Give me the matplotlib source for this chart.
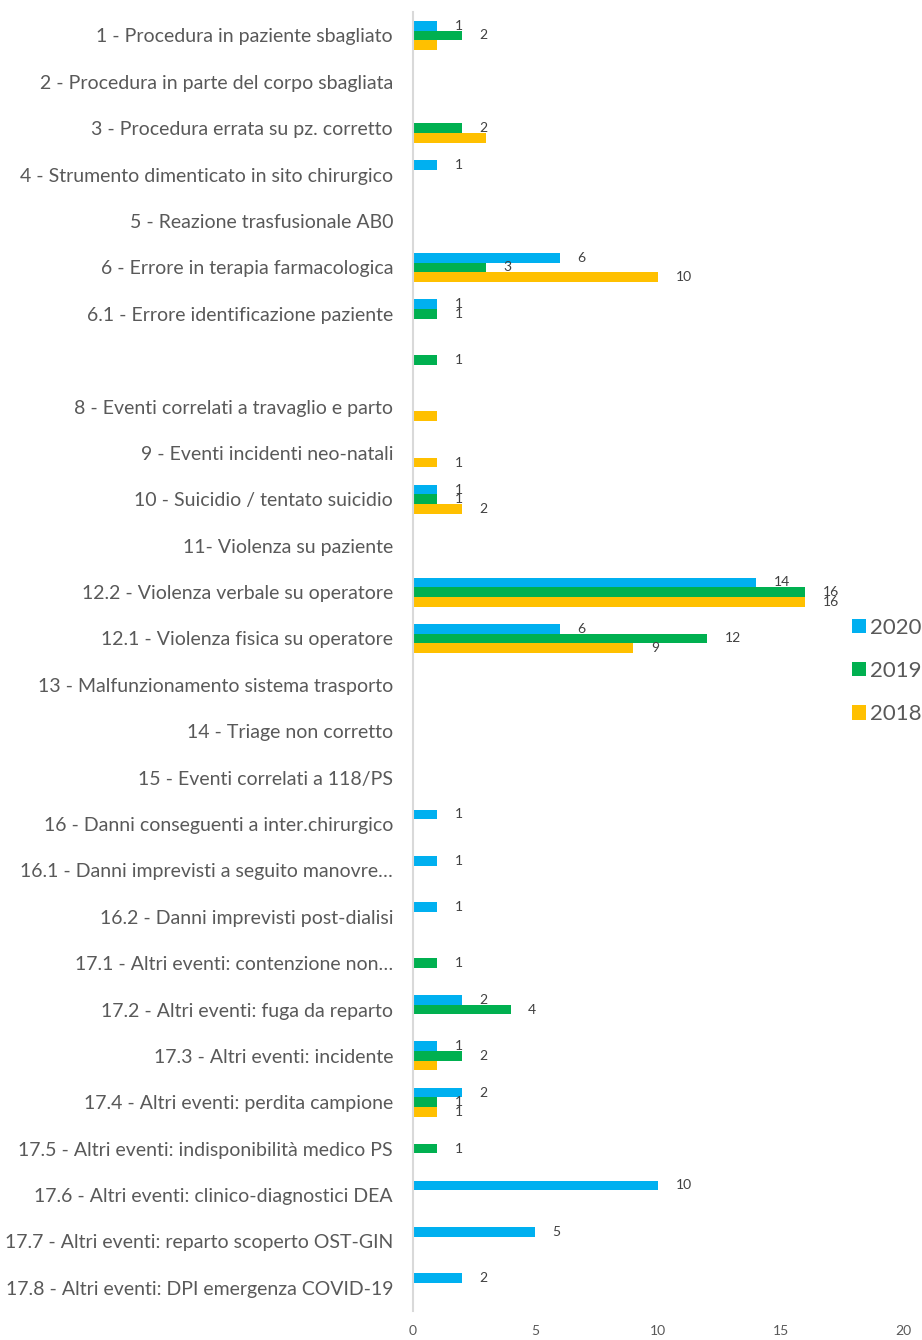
# Grafico a barre orizzontali: eventi sentinella per anno
import matplotlib
matplotlib.use('Agg')
import matplotlib.pyplot as plt
from matplotlib.patches import Patch
import numpy as np

plt.rcParams['font.family'] = ['Lato', 'DejaVu Sans']

# Categorie (dall'alto verso il basso)
categorie = [
    '1 - Procedura in paziente sbagliato',
    '2 - Procedura in parte del corpo sbagliata',
    '3 - Procedura errata su pz. corretto',
    '4 - Strumento dimenticato in sito chirurgico',
    '5 - Reazione trasfusionale AB0',
    '6 - Errore in terapia farmacologica',
    '6.1 - Errore identificazione paziente',
    '',
    '8 - Eventi correlati a travaglio e parto',
    '9 - Eventi incidenti neo-natali',
    '10 - Suicidio / tentato suicidio',
    '11- Violenza su paziente',
    '12.2 - Violenza verbale su operatore',
    '12.1 - Violenza fisica su operatore',
    '13 - Malfunzionamento sistema trasporto',
    '14 - Triage non corretto',
    '15 - Eventi correlati a 118/PS',
    '16 - Danni conseguenti a inter.chirurgico',
    '16.1 - Danni imprevisti a seguito manovre\u2026',
    '16.2 - Danni imprevisti post-dialisi',
    '17.1 - Altri eventi: contenzione non\u2026',
    '17.2 - Altri eventi: fuga da reparto',
    '17.3 - Altri eventi: incidente',
    '17.4 - Altri eventi: perdita campione',
    '17.5 - Altri eventi: indisponibilità medico PS',
    '17.6 - Altri eventi: clinico-diagnostici DEA',
    '17.7 - Altri eventi: reparto scoperto OST-GIN',
    '17.8 - Altri eventi: DPI emergenza COVID-19',
]

anni = ['2020', '2019', '2018']
v2020 = [1, 0, 0, 1, 0, 6, 1, 0, 0, 0, 1, 0, 14, 6, 0, 0, 0, 1, 1, 1, 0, 2, 1, 2, 0, 10, 5, 2]
v2019 = [2, 0, 2, 0, 0, 3, 1, 1, 0, 0, 1, 0, 16, 12, 0, 0, 0, 0, 0, 0, 1, 4, 2, 1, 1, 0, 0, 0]
v2018 = [1, 0, 3, 0, 0, 10, 0, 0, 1, 1, 2, 0, 16, 9, 0, 0, 0, 0, 0, 0, 0, 0, 1, 1, 0, 0, 0, 0]

# Etichette non mostrate nell'originale (serie, indice categoria)
etichette_nascoste = [('2018', 0), ('2018', 2), ('2018', 8), ('2018', 22)]

colori = {'2020': '#00B0F0', '2019': '#00B050', '2018': '#FFC000'}
serie = {'2020': v2020, '2019': v2019, '2018': v2018}

fig = plt.figure(figsize=(9.22, 13.4), dpi=100)
ax = fig.add_axes([412.5 / 922, 1 - 1311 / 1340, 491 / 922, (1311 - 12.3) / 1340])

y = np.arange(len(categorie))
h = 0.208
offset = {'2020': -h, '2019': 0, '2018': h}

for anno in anni:
    valori = serie[anno]
    ax.barh(y + offset[anno], valori, height=h, color=colori[anno], label=anno)
    for i, v in enumerate(valori):
        if v == 0 or (anno, i) in etichette_nascoste:
            continue
        ax.annotate(str(v), (v, y[i] + offset[anno]), xytext=(12.5, 0),
                    textcoords='offset points', ha='left', va='center',
                    fontsize=10, color='#404040')

ax.set_ylim(len(categorie) - 0.5, -0.5)
ax.set_xlim(0, 20)
ax.set_xticks([0, 5, 10, 15, 20])
ax.set_yticks(y)
ax.set_yticklabels(categorie, fontsize=14, color='#595959')
ax.tick_params(axis='y', length=0, pad=14)
ax.tick_params(axis='x', length=0, labelsize=10, labelcolor='#595959', pad=10)

for lato in ['top', 'right', 'bottom']:
    ax.spines[lato].set_visible(False)
ax.spines['left'].set_color('#D9D9D9')
ax.spines['left'].set_linewidth(1.5)

maniglie = [Patch(facecolor=colori[a], edgecolor='none') for a in anni]
fig.legend(maniglie, anni, loc='center left', bbox_to_anchor=(852 / 922, 1 - 671 / 1340),
           frameon=False, fontsize=16, labelcolor='#595959',
           handlelength=0.63, handleheight=0.63, handletextpad=0.2,
           labelspacing=1.05, borderpad=0, borderaxespad=0)

fig.savefig('out.png', dpi=100)
